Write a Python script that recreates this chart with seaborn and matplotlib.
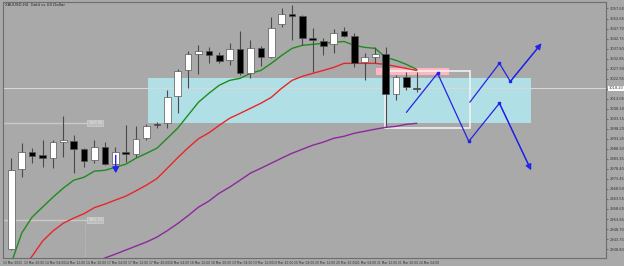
import matplotlib
matplotlib.use("Agg")
import matplotlib.pyplot as plt
import seaborn as sns
import numpy as np
import pandas as pd

# ---------------- data ----------------
opens  = [2938.8, 2978.2, 2986.6, 2985.1, 2983.7, 2991.6, 2992.0, 2988.1, 2982.7, 2989.1,
          2980.7, 2986.6, 2985.6, 2993.5, 3000.4, 3000.9, 3014.2, 3027.0, 3034.9, 3036.4,
          3034.4, 3032.0, 3037.4, 3025.6, 3037.9, 3033.5, 3049.7, 3055.1, 3053.7, 3042.8,
          3041.3, 3039.9, 3046.3, 3043.8, 3031.0, 3033.5, 3034.9, 3015.2, 3023.6, 3018.2]
highs  = [2983.7, 2991.1, 2988.6, 2992.5, 2992.5, 3004.4, 2995.0, 2988.6, 2992.5, 2991.6,
          2989.1, 2999.9, 2999.4, 3000.4, 3001.4, 3017.2, 3027.5, 3036.4, 3039.4, 3038.4,
          3035.9, 3040.4, 3046.3, 3041.8, 3038.9, 3053.2, 3057.6, 3059.1, 3054.2, 3047.8,
          3042.8, 3047.3, 3048.7, 3045.3, 3035.4, 3038.4, 3038.4, 3024.6, 3026.1, 3026.1]
lows   = [2938.3, 2974.3, 2981.2, 2979.2, 2978.7, 2984.2, 2976.3, 2979.2, 2981.2, 2980.2,
          2980.2, 2981.7, 2984.2, 2992.5, 2998.5, 2998.5, 3005.8, 3018.2, 3025.1, 3030.5,
          3030.5, 3029.5, 3024.6, 3023.1, 3029.0, 3033.0, 3048.7, 3041.8, 3039.4, 3026.1,
          3034.4, 3035.4, 3043.3, 3028.5, 3022.1, 3030.5, 2998.9, 3012.3, 3017.2, 3016.2]
closes = [2977.7, 2986.6, 2984.6, 2983.7, 2991.6, 2992.5, 2988.1, 2982.2, 2989.1, 2980.7,
          2986.6, 2985.6, 2993.0, 2999.4, 3000.2, 3013.7, 3026.6, 3034.9, 3036.4, 3034.4,
          3031.5, 3037.4, 3025.6, 3037.9, 3033.5, 3048.2, 3055.1, 3053.7, 3042.8, 3041.8,
          3038.9, 3045.3, 3043.8, 3030.5, 3033.5, 3034.9, 3015.2, 3023.6, 3018.7, 3018.0]

ma_fast = [2931.9, 2946.7, 2954.6, 2959.5, 2964.4, 2968.9, 2972.8, 2974.3, 2977.3, 2977.7,
           2979.2, 2980.7, 2983.7, 2986.1, 2988.6, 2993.5, 2998.5, 3004.9, 3011.3, 3015.7,
           3019.7, 3022.1, 3023.1, 3025.6, 3027.0, 3030.5, 3034.4, 3037.9, 3039.4, 3039.9,
           3040.4, 3040.9, 3041.3, 3039.4, 3038.4, 3037.9, 3033.5, 3032.0, 3030.0, 3027.5]
ma_mid  = [2922.0, 2928.9, 2935.3, 2942.7, 2947.7, 2951.6, 2954.1, 2956.3, 2959.3, 2961.0,
           2963.0, 2964.9, 2967.6, 2970.4, 2973.6, 2978.7, 2983.9, 2988.8, 2993.3, 2996.2,
           2999.9, 3003.4, 3005.8, 3008.3, 3010.8, 3013.7, 3018.2, 3022.1, 3024.1, 3025.6,
           3027.0, 3028.5, 3030.5, 3030.5, 3030.5, 3030.5, 3030.0, 3029.0, 3028.0, 3027.0]
ma_slow = [None] * 8 + [
           2932.4, 2934.4, 2936.3, 2938.3, 2940.3, 2942.3, 2944.7, 2947.9, 2951.4, 2955.3,
           2959.5, 2962.5, 2966.4, 2969.4, 2972.8, 2976.3, 2978.7, 2981.2, 2983.7, 2986.1,
           2988.1, 2990.1, 2991.6, 2993.5, 2994.5, 2996.0, 2997.0, 2998.0, 2998.9, 2999.4,
           3000.4, 3000.9]

# projected paths (bar index, price)
path_a_x = [38.0, 41.0, 44.0, 46.95, 50.0]
path_a_y = [3006.3, 3025.6, 2992.0, 3010.8, 2977.7]
path_b_x = [44.1, 46.95, 48.0, 51.0]
path_b_y = [3011.3, 3030.5, 3021.6, 3040.4]

# zones
zone_cyan = (13.1, 50.0, 3000.9, 3023.1)
zone_pink = (35.1, 42.1, 3024.6, 3028.0)
box_white = (35.9, 44.1, 2998.5, 3026.6)

bid_price = 3018.2
level_a = 3000.9
level_b = 2953.1

y_tick_start = 2938.8
y_tick_step = 4.95
n_y_ticks = 25

x_labels = ["13 Mar 2025", "13 Mar 20:00", "14 Mar 04:00", "14 Mar 12:00", "14 Mar 20:00",
            "17 Mar 04:00", "17 Mar 12:00", "17 Mar 20:00", "18 Mar 04:00", "18 Mar 12:00",
            "18 Mar 20:00", "19 Mar 04:00", "19 Mar 12:00", "19 Mar 20:00", "20 Mar 04:00",
            "20 Mar 12:00", "20 Mar 20:00", "21 Mar 04:00", "21 Mar 12:00", "21 Mar 20:00",
            "24 Mar 04:00"]

# ---------------- plot ----------------
sns.set_style("white")
plt.rcParams['font.family'] = ['DejaVu Sans']

BG = "#a9a9a9"
fig = plt.figure(figsize=(6.24, 2.66), dpi=100, facecolor=BG)
ax = fig.add_axes([3 / 624, 8 / 266, 603 / 624, 256 / 266])
ax.set_facecolor(BG)

ax.set_xlim(-0.70, 57.2)
ax.set_ylim(2934.4, 3060.8)

# zones
x0, x1, y0, y1 = zone_cyan
ax.add_patch(plt.Rectangle((x0, y0), x1 - x0, y1 - y0, facecolor="#b0e0e6",
                           edgecolor="none", zorder=1))
x0, x1, y0, y1 = zone_pink
ax.add_patch(plt.Rectangle((x0, y0), x1 - x0, y1 - y0, facecolor="#ffb6c1",
                           edgecolor="none", zorder=1))
x0, x1, y0, y1 = box_white
ax.add_patch(plt.Rectangle((x0, y0), x1 - x0, y1 - y0, facecolor="none",
                           edgecolor="#f0f0f0", lw=1.2, zorder=1.5))

# bid line
ax.axhline(bid_price, color="#d8d8d8", lw=0.8, zorder=1.2)

# left levels
ax.plot([-1, 7.35], [level_a, level_a], color="#c8c8c8", lw=1.0, zorder=1.2)
ax.plot([-1, 7.35], [level_b, level_b], color="#c8c8c8", lw=1.0, zorder=1.2)
ax.plot([7.07, 7.07], [2930, level_b], color="#c8c8c8", lw=0.6, ls=(0, (1, 1.5)), zorder=1.2)
for lv in (level_a, level_b):
    ax.text(7.4, lv, f"{lv:.2f}", fontsize=2.4, color="#e8e8e8", va="center", ha="left",
            bbox=dict(boxstyle="square,pad=0.25", fc="#bdbdbd", ec="#d0d0d0", lw=0.5), zorder=1.3)

# moving averages
idx = np.arange(len(closes))
ma_df = pd.DataFrame({"bar": idx, "fast": ma_fast, "mid": ma_mid,
                      "slow": pd.to_numeric(pd.Series(ma_slow), errors="coerce")})
sns.lineplot(data=ma_df, x="bar", y="fast", color="#1e8c1e", lw=1.0, ax=ax, zorder=2)
sns.lineplot(data=ma_df, x="bar", y="mid", color="#e8262a", lw=1.0, ax=ax, zorder=2)
sns.lineplot(data=ma_df, x="bar", y="slow", color="#8b2a9b", lw=1.0, ax=ax, zorder=2)

# candles
o = np.array(opens); c = np.array(closes); h = np.array(highs); l = np.array(lows)
bull = c >= o
ax.vlines(idx, l, h, color="#4a4a4a", lw=0.8, zorder=3)
body_lo = np.minimum(o, c)
body_h = np.maximum(np.abs(c - o), 0.35)
ax.bar(idx[bull], body_h[bull], bottom=body_lo[bull], width=0.64, color="white",
       edgecolor="#555555", linewidth=0.5, zorder=4)
ax.bar(idx[~bull], body_h[~bull], bottom=body_lo[~bull], width=0.64, color="black",
       edgecolor="#555555", linewidth=0.5, zorder=4)

# projection paths
for px, py in ((path_a_x, path_a_y), (path_b_x, path_b_y)):
    pdf = pd.DataFrame({"x": px[:-1] + [px[-1] - (px[-1] - px[-2]) * 0.08],
                        "y": py[:-1] + [py[-1] - (py[-1] - py[-2]) * 0.08]})
    sns.lineplot(data=pdf, x="x", y="y", color="#2424e8", lw=0.9, ax=ax, zorder=5,
                 sort=False, estimator=None)
    ax.scatter(px[1:-1], py[1:-1], s=4, color="#2424e8", marker="s", zorder=5)
    ax.annotate("", xy=(px[-1], py[-1]), xytext=(px[-2], py[-2]),
                arrowprops=dict(arrowstyle="-|>,head_length=0.35,head_width=0.18",
                                color="#2424e8", lw=0.9, shrinkA=0, shrinkB=0), zorder=5)

# small down arrow
ax.annotate("", xy=(10.04, 2976.3), xytext=(10.04, 2985.1),
            arrowprops=dict(arrowstyle="-|>,head_length=0.35,head_width=0.2",
                            color="#2424e8", lw=1.0, shrinkA=0, shrinkB=0), zorder=6)

# axes styling
for side in ("left", "right", "top", "bottom"):
    ax.spines[side].set_color("#6e6e6e")
    ax.spines[side].set_linewidth(0.8)

yt = [y_tick_start + k * y_tick_step for k in range(n_y_ticks)]
ax.yaxis.tick_right()
ax.set_yticks(yt)
ax.set_yticklabels([f"{v:.2f}" for v in yt], fontsize=2.6, color="#303030")
ax.tick_params(axis="y", direction="out", length=1.5, width=0.5, colors="#505050",
               pad=1, labelcolor="#303030")

xt = [2 * k - 0.8 for k in range(len(x_labels))]
ax.set_xticks(xt)
ax.set_xticklabels(x_labels, fontsize=2.2, color="#303030", ha="left")
ax.tick_params(axis="x", direction="out", length=1.5, width=0.5, colors="#505050",
               pad=0.5, labelcolor="#303030")
ax.set_xlabel(""); ax.set_ylabel("")
ax.grid(False)

# bid price label
ax.text(1.004, bid_price, f"{bid_price:.2f}", transform=ax.get_yaxis_transform(),
        fontsize=2.6, color="#303030", va="center", ha="left",
        bbox=dict(boxstyle="square,pad=0.1", fc="white", ec="none"), zorder=10,
        clip_on=False)

# title
ax.text(0.004, 0.995, "XAUUSD,H4  Gold vs US Dollar", transform=ax.transAxes,
        fontsize=2.8, color="#202020", va="top", ha="left")

fig.savefig("out.png", dpi=100, facecolor=BG)
